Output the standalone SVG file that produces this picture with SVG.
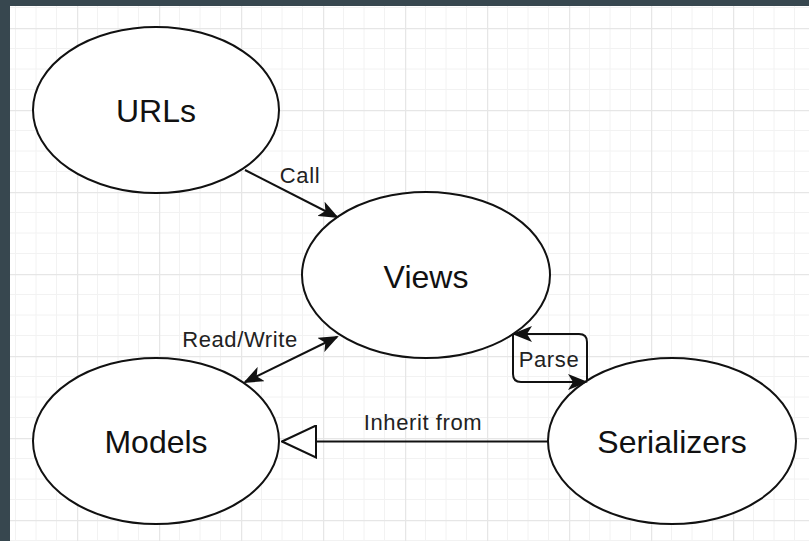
<svg xmlns="http://www.w3.org/2000/svg" width="809" height="541" viewBox="0 0 809 541">
  <style>
    .node ellipse { fill: #ffffff; stroke: #111111; stroke-width: 2; }
    .node text { font-family: "Liberation Sans", Arial, sans-serif; font-size: 32px; fill: #111111; text-anchor: middle; }
    .edge { fill: none; stroke: #111111; stroke-width: 2; }
    .elabel { font-family: "Liberation Sans", Arial, sans-serif; font-size: 22px; fill: #222222; text-anchor: middle; letter-spacing: 0.6px; }
  </style>
  <defs>
    <pattern id="grid" x="77" y="28" width="82" height="82" patternUnits="userSpaceOnUse">
      <path d="M20.5 0V82M41 0V82M61.5 0V82M0 20.5H82M0 41H82M0 61.5H82" stroke="#f2f2f2" stroke-width="1" fill="none"/>
      <path d="M0.5 0V82M0 0.5H82" stroke="#e6e6e6" stroke-width="1.5" fill="none"/>
    </pattern>
    <marker id="arrow" viewBox="0 0 20 16" refX="18" refY="8" markerWidth="20" markerHeight="16" markerUnits="userSpaceOnUse" orient="auto-start-reverse">
      <path d="M0 0L20 8L0 16L5 8Z" fill="#111111"/>
    </marker>
    <marker id="hollow" viewBox="0 0 36 34" refX="35" refY="17" markerWidth="36" markerHeight="34" markerUnits="userSpaceOnUse" orient="auto">
      <path d="M35 17L1 1V33Z" fill="#ffffff" stroke="#111111" stroke-width="2"/>
    </marker>
  </defs>

  <!-- frame and canvas -->
  <rect x="0" y="0" width="809" height="541" fill="#37474f"/>
  <rect x="10" y="6" width="799" height="535" fill="#ffffff"/>
  <rect x="10" y="6" width="799" height="535" fill="url(#grid)"/>

  <g id="urls" class="node">
    <ellipse cx="156" cy="110" rx="123" ry="83"/>
    <text x="156" y="122">URLs</text>
  </g>
  <g id="views" class="node">
    <ellipse cx="426" cy="275" rx="124" ry="83"/>
    <text x="426" y="288">Views</text>
  </g>
  <g id="models" class="node">
    <ellipse cx="156" cy="441" rx="123" ry="83"/>
    <text x="156" y="453">Models</text>
  </g>
  <g id="serializers" class="node">
    <ellipse cx="672" cy="441" rx="124" ry="83"/>
    <text x="672" y="453">Serializers</text>
  </g>

  <g id="connectors">
    <!-- URLs -> Views -->
    <path class="edge" d="M245 170L337 217" marker-end="url(#arrow)"/>
    <text class="elabel" x="300" y="183">Call</text>
    <!-- Models <-> Views -->
    <path class="edge" d="M245 382L337 337" marker-start="url(#arrow)" marker-end="url(#arrow)"/>
    <text class="elabel" x="240" y="347">Read/Write</text>
    <!-- Serializers -> Views -->
    <path class="edge" d="M587 381V342Q587 334 579 334H514" marker-end="url(#arrow)"/>
    <!-- Views -> Serializers -->
    <path class="edge" d="M513 334V374Q513 382 521 382H586" marker-end="url(#arrow)"/>
    <text class="elabel" x="549" y="367">Parse</text>
    <!-- Serializers inherits Models -->
    <path class="edge" d="M548 441.5H282" marker-end="url(#hollow)"/>
    <text class="elabel" x="423" y="430">Inherit from</text>
  </g>
</svg>
